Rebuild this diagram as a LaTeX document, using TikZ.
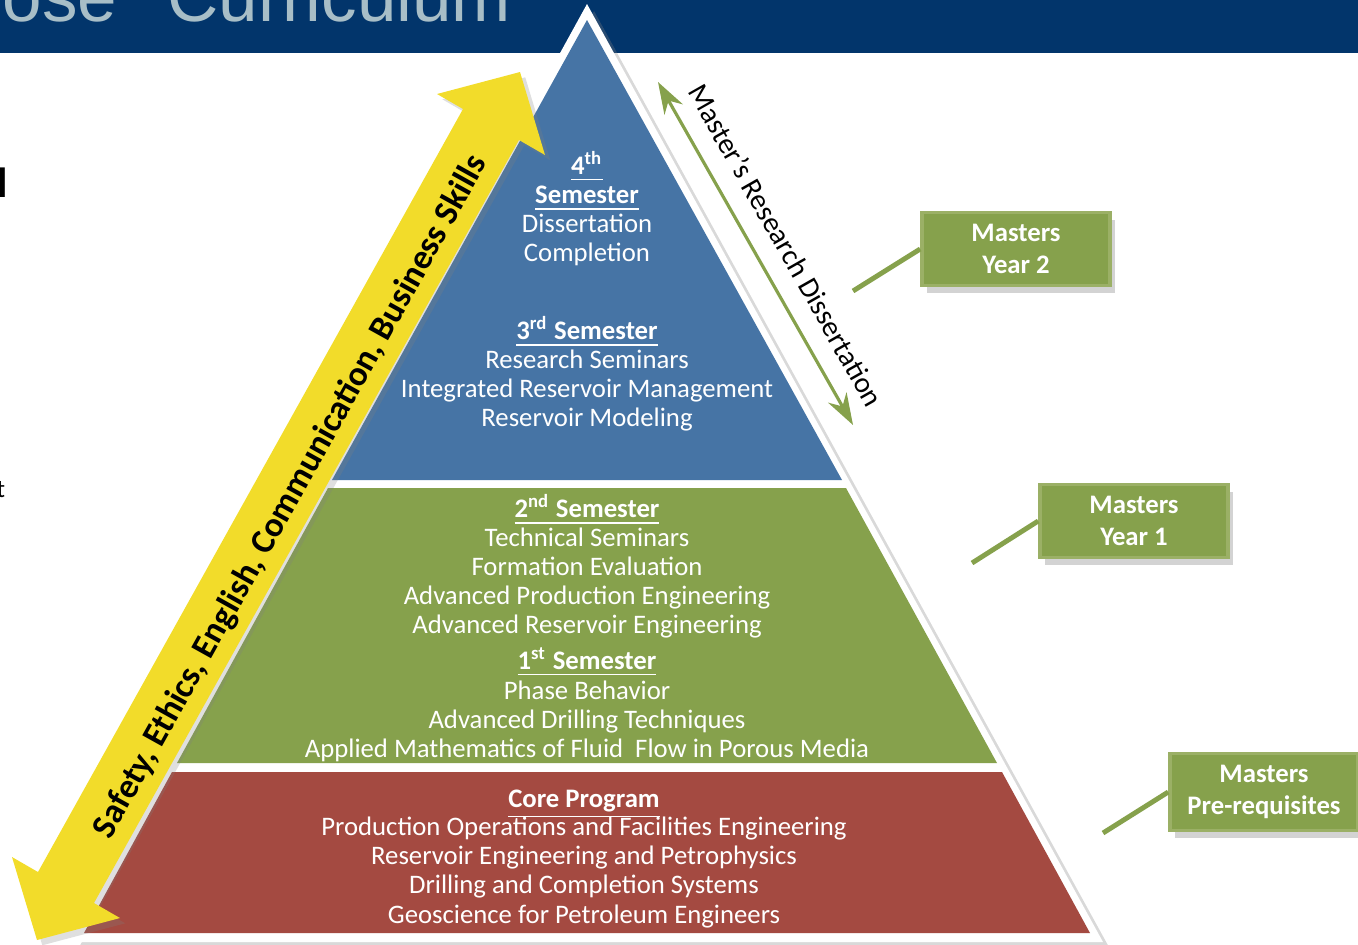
\documentclass[tikz,border=0pt]{standalone}
\usepackage{fontspec}
\setmainfont{Carlito}
\newfontfamily\titlefont{Liberation Sans}
\usetikzlibrary{arrows.meta,shadows}
\definecolor{bandblue}{RGB}{2,53,107}
\definecolor{titlegray}{RGB}{168,190,199}
\definecolor{tierblue}{RGB}{70,116,165}
\definecolor{tiergreen}{RGB}{134,161,76}
\definecolor{tierred}{RGB}{164,74,65}
\definecolor{skillyellow}{RGB}{242,220,42}
\definecolor{boxedge}{RGB}{155,176,102}
\newcommand{\semhead}[2]{\underline{\textbf{#1\textsuperscript{#2} Semester}}}
\begin{document}
\begin{tikzpicture}
    [x=0.01cm,y=-0.01cm,
     course/.style={text=white,align=center,inner sep=0pt,font=\fontsize{7.6}{8.25}\selectfont},
     yearbox/.style={fill=tiergreen,draw=boxedge,line width=1pt,minimum width=1.88cm,minimum height=0.71cm,
        text=white,align=center,font=\bfseries\fontsize{7.6}{9.1}\selectfont,
        drop shadow={opacity=0.35,shadow xshift=1.5pt,shadow yshift=-2pt}},
     leader/.style={draw=tiergreen,line width=1.4pt}]
    \useasboundingbox (0,0) rectangle (1358,944);
    \clip (0,0) rectangle (1358,944);
    % title band
    \fill[bandblue] (0,0) rectangle (1358,53);
    \node[anchor=base east,inner sep=0pt,text=titlegray,font=\titlefont\fontsize{20.2}{24}\selectfont] (tail) at (118,21) {ose};
    \node[anchor=base west,inner sep=0pt,text=titlegray,font=\titlefont\fontsize{20.2}{24}\selectfont] (title) at (167,21) {Curriculum};
    \node[anchor=base west,inner sep=0pt,font=\bfseries\fontsize{12}{14}\selectfont] (cutl) at (-3,197) {l};
    \node[anchor=base west,inner sep=0pt,font=\fontsize{7.2}{8.4}\selectfont] (cutt) at (-4,497) {t};
    % pyramid
    \fill[white,drop shadow={opacity=0.3,shadow xshift=2pt,shadow yshift=-2pt}] (587,4) -- (1103,942) -- (71,942) -- cycle;
    \fill[tierblue] (587,20) -- (842,480) -- (332,480) -- cycle;
    \fill[tiergreen] (328,488) -- (846,488) -- (997,763) -- (177,763) -- cycle;
    \fill[tierred] (172,772) -- (1002,772) -- (1090,933) -- (84,933) -- cycle;
    \node[course,anchor=north] (sem4) at (587,151)
        {\underline{\textbf{4\textsuperscript{th}}}\\ \underline{\textbf{Semester}}\\ Dissertation\\ Completion};
    \node[course,anchor=north] (sem3) at (587,316)
        {\semhead{3}{rd}\\ Research Seminars\\ Integrated Reservoir Management\\ Reservoir Modeling};
    \node[course,anchor=north] (sem2) at (587,494)
        {\semhead{2}{nd}\\ Technical Seminars\\ Formation Evaluation\\ Advanced Production Engineering\\ Advanced Reservoir Engineering};
    \node[course,anchor=north] (sem1) at (587,647)
        {\semhead{1}{st}\\[0.4pt] Phase Behavior\\ Advanced Drilling Techniques\\ Applied Mathematics of Fluid\ \ Flow in Porous Media};
    \node[course,anchor=north] (core) at (584,789)
        {\underline{\textbf{Core Program}}\\[-1.4pt] Production Operations and Facilities Engineering\\ Reservoir Engineering and Petrophysics\\ Drilling and Completion Systems\\ Geoscience for Petroleum Engineers};
    % skills arrow
    \fill[skillyellow,drop shadow={opacity=0.25,shadow xshift=1.5pt,shadow yshift=-1.5pt}]
        (520,72) -- (545,155) -- (519,140) -- (94,903) -- (120,918) -- (37,940)
        -- (12,857) -- (38,872) -- (463,109) -- (437,94) -- cycle;
    \node[rotate=60.9,font=\bfseries\fontsize{9.9}{12}\selectfont] (skills) at (291,497)
        {Safety, Ethics, English, Communication, Business Skills};
    % dissertation arrow
    \coordinate (dtop) at (658,82);
    \coordinate (dbot) at (853,425);
    \draw[tiergreen,line width=0.9pt,{Stealth[length=9pt,width=6pt]}-{Stealth[length=9pt,width=6pt]}] (dtop) -- (dbot)
        node[pos=0.52,sloped,above=2pt,text=black,font=\fontsize{8.3}{10}\selectfont] (diss) {Master’s Research Dissertation};
    % year labels
    \node[yearbox] (year2) at (1016,249) {Masters\\Year 2};
    \node[yearbox] (year1) at (1134,521) {Masters\\Year 1};
    \node[yearbox] (prereq) at (1264,792) {Masters\\Pre-requisites};
    \coordinate (y2end) at (853,291);
    \coordinate (y1end) at (972,563);
    \coordinate (preend) at (1103,833);
    \draw[leader] (year2.west) -- (y2end);
    \draw[leader] (year1.west) -- (y1end);
    \draw[leader] (prereq.west) -- (preend);
\end{tikzpicture}
\end{document}
